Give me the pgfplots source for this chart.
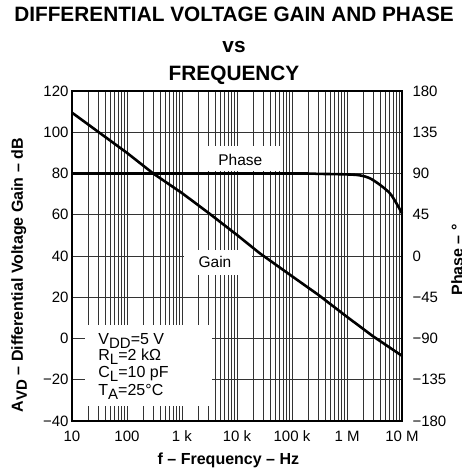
\documentclass[border=0pt]{standalone}
\usepackage{pgfplots}
\pgfplotsset{compat=1.18}
\usepackage{fontspec}
\setmainfont{Liberation Sans}
\newcommand{\lowsub}[1]{\raisebox{-4pt}{\fontsize{15}{15}\selectfont #1}}

\begin{document}
\begin{tikzpicture}
\begin{semilogxaxis}[
    scale only axis, width=330pt, height=330pt,
    xmin=10, xmax=1e7, ymin=-40, ymax=120,
    xtick={10,100,1000,10000,100000,1000000,10000000},
    xticklabels={10,100,1 k,10 k,100 k,1 M,10 M},
    ytick={-40,-20,...,120},
    yticklabels={−40,−20,0,20,40,60,80,100,120},
    minor y tick num=0,
    grid=both,
    grid style={black!80, line width=0.8pt},
    minor grid style={black!80, line width=0.8pt},
    major tick length=0pt, minor tick length=0pt,
    axis line style={line width=2pt},
    tick label style={font=\fontsize{15}{15}\selectfont},
    xticklabel style={yshift=-6pt, text height=11pt, text depth=0pt},
    xlabel={f – Frequency – Hz},
    xlabel style={at={(axis description cs:0.474,-0.118)}, anchor=center,
        font=\fontsize{16}{16}\selectfont\bfseries},
    ylabel={A\lowsub{VD} – Differential Voltage Gain – dB},
    ylabel style={at={(axis description cs:-0.16,0.442)}, anchor=center,
        font=\fontsize{16}{16}\selectfont\bfseries},
    clip=false]
\coordinate (SW) at (rel axis cs:0,0);
\coordinate (NE) at (rel axis cs:1,1);
% white boxes behind the labels
\fill[white] (axis cs:2000,93.5) rectangle (axis cs:68600,81.3);
\fill[white] (axis cs:1090,42.9) rectangle (axis cs:18600,30.8);
\fill[white] (axis cs:17.2,6.5) rectangle (axis cs:3500,-32.7);
\addplot[black, line width=2.6pt] coordinates {
(10,109.5)(100,90)(300,80)(1000,70.5)(3000,61)(10000,50.2)(26000,41.3)
(100000,30.2)(300000,21.2)(1000000,10.5)(3000000,1)(10000000,-8.4)};
\node[font=\fontsize{15.5}{15.5}\selectfont] at (axis cs:11500,86.5) {Phase};
\node[font=\fontsize{15.5}{15.5}\selectfont] at (axis cs:3981,37.1) {Gain};
\begin{scope}[every node/.style={anchor=base west, inner sep=0pt, font=\fontsize{16}{16}\selectfont}]
\node at (axis cs:30,-2.67) {V\lowsub{DD}=5 V};
\node at (axis cs:30,-10.76) {R\lowsub{L}=2 kΩ};
\node at (axis cs:30,-18.8) {C\lowsub{L}=10 pF};
\node at (axis cs:30,-27.4) {T\lowsub{A}=25°C};
\end{scope}
\begin{scope}[every node/.style={anchor=base, font=\fontsize{20.8}{20.8}\selectfont\bfseries}]
\node at (rel axis cs:0.491,1.212) {DIFFERENTIAL VOLTAGE GAIN AND PHASE};
\node at (rel axis cs:0.491,1.118) {vs};
\node at (rel axis cs:0.491,1.033) {FREQUENCY};
\end{scope}
\end{semilogxaxis}
\begin{semilogxaxis}[
    scale only axis, width=330pt, height=330pt,
    xmin=10, xmax=1e7, ymin=-180, ymax=180,
    axis y line*=right, axis x line=none,
    ytick={-180,-135,...,180},
    yticklabels={−180,−135,−90,−45,0,45,90,135,180},
    major tick length=0pt,
    yticklabel style={xshift=7pt, font=\fontsize{15}{15}\selectfont},
    ylabel={Phase – °},
    ylabel style={at={(axis description cs:1.167,0.488)}, anchor=center,
        font=\fontsize{16}{16}\selectfont\bfseries},
    clip=false]
\addplot[black, line width=2.6pt, smooth] coordinates {
(10,90)(100000,90)(300000,89.6)(1000000,89)(1700000,88)(2600000,84.8)
(4000000,77.5)(6000000,68.5)(7900000,57.6)(10000000,46.6)};
\end{semilogxaxis}
\pgfresetboundingbox
\path[use as bounding box] ([shift={(-72pt,-49pt)}]SW) rectangle ([shift={(59pt,91pt)}]NE);
\end{tikzpicture}
\end{document}
